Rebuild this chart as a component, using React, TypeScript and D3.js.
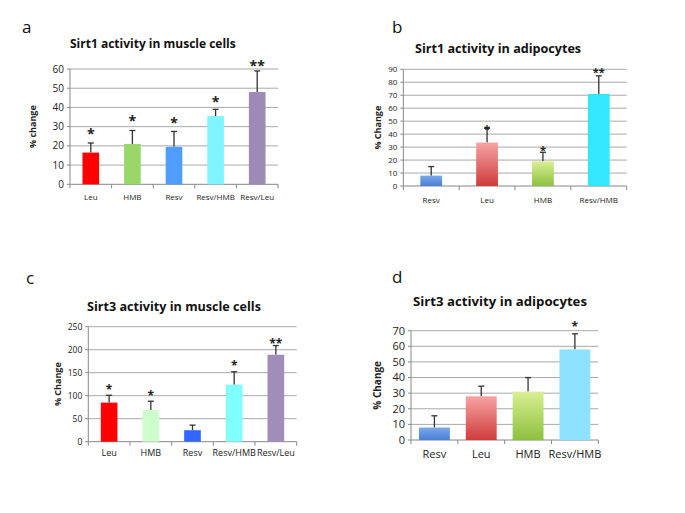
import React from "react";
import * as d3 from "d3";

// ---- Data ----
const catsA = ["Leu", "HMB", "Resv", "Resv/HMB", "Resv/Leu"];
const valsA = [16.5, 21, 19.5, 35.5, 48];
const errA = [21.5, 28, 27.5, 39, 59];
const starsA = ["*", "*", "*", "*", "**"];
const starPosA = [28.5, 35.5, 34.5, 45.5, 64];
const ticksA = [0, 10, 20, 30, 40, 50, 60];

const catsB = ["Resv", "Leu", "HMB", "Resv/HMB"];
const valsB = [8, 33.5, 19, 71];
const errB = [15, 44.5, 26, 85];
const starsB = ["", "*", "*", "**"];
const starPosB = [0, 47, 31, 91];
const ticksB = [0, 10, 20, 30, 40, 50, 60, 70, 80, 90];

const catsC = ["Leu", "HMB", "Resv", "Resv/HMB", "Resv/Leu"];
const valsC = [85, 69, 25, 124, 189];
const errC = [101, 88, 36, 152, 209];
const starsC = ["*", "*", "", "*", "**"];
const starPosC = [123, 109, 0, 174, 222];
const ticksC = [0, 50, 100, 150, 200, 250];

const catsD = ["Resv", "Leu", "HMB", "Resv/HMB"];
const valsD = [8, 28, 31, 58];
const errD = [15.5, 34.5, 40, 68];
const starsD = ["", "", "", "*"];
const starPosD = [0, 0, 0, 75];
const ticksD = [0, 10, 20, 30, 40, 50, 60, 70];

type Fill = { top: string; bottom: string };

const colorsA: Fill[] = [
  { top: "#ff0000", bottom: "#ff0000" },
  { top: "#9ad769", bottom: "#9ad769" },
  { top: "#4f9dff", bottom: "#4f9dff" },
  { top: "#80f4ff", bottom: "#80f4ff" },
  { top: "#9c8bb5", bottom: "#9c8bb5" },
];
const colorsB: Fill[] = [
  { top: "#7aa8ec", bottom: "#4a7fd6" },
  { top: "#f7a4a4", bottom: "#cf3b3b" },
  { top: "#d9ef94", bottom: "#8dc03e" },
  { top: "#35e6ff", bottom: "#35e6ff" },
];
const colorsC: Fill[] = [
  { top: "#ff0000", bottom: "#ff0000" },
  { top: "#ccffcc", bottom: "#ccffcc" },
  { top: "#3366ff", bottom: "#3366ff" },
  { top: "#80ffff", bottom: "#80ffff" },
  { top: "#a18db9", bottom: "#a18db9" },
];
const colorsD: Fill[] = [
  { top: "#7aa8ec", bottom: "#4a7fd6" },
  { top: "#f7a4a4", bottom: "#cf3b3b" },
  { top: "#d9ef94", bottom: "#8dc03e" },
  { top: "#8ee1ff", bottom: "#8ee1ff" },
];

type PanelProps = {
  id: string;
  letter: string;
  letterX: number;
  letterY: number;
  title: string;
  titleX: number;
  titleY: number;
  titleSize: number;
  yTitle: string;
  yTitleX: number;
  yTitleSize: number;
  cats: string[];
  vals: number[];
  errs: number[];
  stars: string[];
  starPos: number[];
  ticks: number[];
  colors: Fill[];
  left: number;
  right: number;
  top: number;
  bottom: number;
  barFrac: number;
  tickSize: number;
  xLabelSize: number;
  xLabelY: number;
  starSize: number;
};

function Panel(p: PanelProps) {
  const ymax = p.ticks[p.ticks.length - 1];
  const y = d3.scaleLinear().domain([0, ymax]).range([p.bottom, p.top]);
  const x = d3.scaleBand().domain(p.cats).range([p.left, p.right]).paddingInner(0).paddingOuter(0);
  const bw = x.bandwidth() * p.barFrac;
  const font = "'Open Sans', 'Liberation Sans', sans-serif";
  return (
    <g>
      <defs>
        {p.colors.map((c, i) => (
          <linearGradient key={i} id={`${p.id}-g${i}`} x1="0" y1="0" x2="0" y2="1">
            <stop offset="0%" stopColor={c.top} />
            <stop offset="100%" stopColor={c.bottom} />
          </linearGradient>
        ))}
      </defs>
      <text x={p.letterX} y={p.letterY} fontSize={17} fontFamily={font} fill="#111">
        {p.letter}
      </text>
      <text x={p.titleX} y={p.titleY} fontSize={p.titleSize} fontWeight="bold" fontFamily={font} fill="#111">
        {p.title}
      </text>
      {p.ticks.map((t) => (
        <g key={t}>
          {t > 0 && (
            <line x1={p.left} x2={p.right} y1={y(t)} y2={y(t)} stroke="#a9a9a9" strokeWidth={1} />
          )}
          <line x1={p.left - 3} x2={p.left} y1={y(t)} y2={y(t)} stroke="#888" />
          <text
            x={p.left - 6}
            y={y(t)}
            dy="0.35em"
            textAnchor="end"
            fontSize={p.tickSize}
            fontFamily={font}
            fill="#222"
          >
            {t}
          </text>
        </g>
      ))}
      <line x1={p.left} x2={p.left} y1={p.top} y2={p.bottom} stroke="#888" />
      <line x1={p.left} x2={p.right} y1={p.bottom} y2={p.bottom} stroke="#888" />
      {d3.range(p.cats.length + 1).map((i) => {
        const xx = p.left + i * x.step();
        return <line key={i} x1={xx} x2={xx} y1={p.bottom} y2={p.bottom + 4} stroke="#888" />;
      })}
      {p.cats.map((c, i) => {
        const cx = (x(c) as number) + x.bandwidth() / 2;
        return (
          <g key={c}>
            <line x1={cx} x2={cx} y1={y(p.vals[i])} y2={y(p.errs[i])} stroke="#333" strokeWidth={1.3} />
            <line x1={cx - 3} x2={cx + 3} y1={y(p.errs[i])} y2={y(p.errs[i])} stroke="#333" strokeWidth={1.3} />
          </g>
        );
      })}
      {p.cats.map((c, i) => {
        const cx = (x(c) as number) + x.bandwidth() / 2;
        return (
          <rect
            key={c}
            x={cx - bw / 2}
            y={y(p.vals[i])}
            width={bw}
            height={p.bottom - y(p.vals[i])}
            fill={`url(#${p.id}-g${i})`}
          />
        );
      })}
      {p.cats.map((c, i) => {
        const cx = (x(c) as number) + x.bandwidth() / 2;
        return p.stars[i] ? (
          <text
            key={c}
            x={cx}
            y={y(p.starPos[i])}
            dy="0.7em"
            textAnchor="middle"
            fontSize={p.starSize}
            fontWeight="bold"
            fontFamily={font}
            fill="#222"
          >
            {p.stars[i]}
          </text>
        ) : null;
      })}
      {p.cats.map((c) => (
        <text
          key={c}
          x={(x(c) as number) + x.bandwidth() / 2}
          y={p.xLabelY}
          textAnchor="middle"
          fontSize={p.xLabelSize}
          fontFamily={font}
          fill="#222"
        >
          {c}
        </text>
      ))}
      <text
        transform={`translate(${p.yTitleX},${(p.top + p.bottom) / 2}) rotate(-90)`}
        textAnchor="middle"
        fontSize={p.yTitleSize}
        fontWeight="bold"
        fontFamily={font}
        fill="#222"
      >
        {p.yTitle}
      </text>
    </g>
  );
}

export default function App() {
  return (
    <svg
      width={685}
      height={513}
      style={{ position: "absolute", left: 0, top: 0, background: "#fff" }}
    >
      <rect width={685} height={513} fill="#fff" />
      <Panel
        id="a" letter="a" letterX={22} letterY={33}
        title="Sirt1 activity in muscle cells" titleX={70} titleY={48} titleSize={12}
        yTitle="% change" yTitleX={36} yTitleSize={9}
        cats={catsA} vals={valsA} errs={errA} stars={starsA} starPos={starPosA}
        ticks={ticksA} colors={colorsA}
        left={70} right={278} top={69} bottom={184.3} barFrac={0.4}
        tickSize={10} xLabelSize={8} xLabelY={200} starSize={14}
      />
      <Panel
        id="b" letter="b" letterX={392} letterY={33}
        title="Sirt1 activity in adipocytes" titleX={415} titleY={53} titleSize={12.6}
        yTitle="% Change" yTitleX={381} yTitleSize={9}
        cats={catsB} vals={valsB} errs={errB} stars={starsB} starPos={starPosB}
        ticks={ticksB} colors={colorsB}
        left={403.3} right={626.7} top={69.3} bottom={186} barFrac={0.39}
        tickSize={8} xLabelSize={8} xLabelY={203} starSize={11}
      />
      <Panel
        id="c" letter="c" letterX={26} letterY={284}
        title="Sirt3 activity in muscle cells" titleX={87} titleY={311} titleSize={12.6}
        yTitle="% Change" yTitleX={61} yTitleSize={9}
        cats={catsC} vals={valsC} errs={errC} stars={starsC} starPos={starPosC}
        ticks={ticksC} colors={colorsC}
        left={88.3} right={296.7} top={326.7} bottom={441.7} barFrac={0.4}
        tickSize={8.5} xLabelSize={9} xLabelY={456} starSize={12}
      />
      <Panel
        id="d" letter="d" letterX={392} letterY={283}
        title="Sirt3 activity in adipocytes" titleX={413} titleY={306} titleSize={13.2}
        yTitle="% Change" yTitleX={381} yTitleSize={10}
        cats={catsD} vals={valsD} errs={errD} stars={starsD} starPos={starPosD}
        ticks={ticksD} colors={colorsD}
        left={411} right={598.3} top={330.7} bottom={440} barFrac={0.66}
        tickSize={11} xLabelSize={11} xLabelY={458} starSize={12}
      />
    </svg>
  );
}
